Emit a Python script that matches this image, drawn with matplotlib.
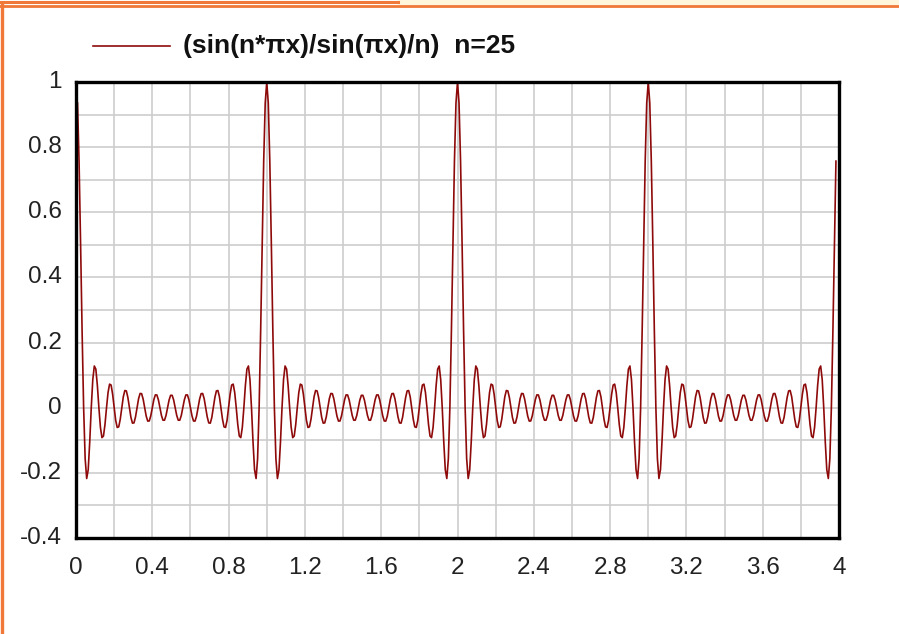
import numpy as np
import matplotlib
matplotlib.use("Agg")
import matplotlib.pyplot as plt
from matplotlib.lines import Line2D
from matplotlib.ticker import MultipleLocator

# Function parameters and sampling
n = 25
x_start, x_stop, x_step = 0.008, 3.984, 0.008
x_ticks = [0, 0.4, 0.8, 1.2, 1.6, 2, 2.4, 2.8, 3.2, 3.6, 4]
x_tick_labels = ["0", "0.4", "0.8", "1.2", "1.6", "2", "2.4", "2.8", "3.2", "3.6", "4"]
y_ticks = [-0.4, -0.2, 0, 0.2, 0.4, 0.6, 0.8, 1]
y_tick_labels = ["-0.4", "-0.2", "0", "0.2", "0.4", "0.6", "0.8", "1"]
legend_label = "(sin(n*\u03c0x)/sin(\u03c0x)/n)  n=25"

x = np.round(np.arange(x_start, x_stop + x_step / 2, x_step), 6)
den = np.sin(np.pi * x)
num = np.sin(n * np.pi * x)
near_int = np.isclose(x, np.round(x))
y = np.empty_like(x)
y[~near_int] = num[~near_int] / den[~near_int] / n
# limit value at integer x
y[near_int] = (-1.0) ** ((n - 1) * np.round(x[near_int]))

line_color = "#8E0A0A"
orange = "#F07838"

fig = plt.figure(figsize=(8.99, 6.34), dpi=100, facecolor="white")
ax = fig.add_axes([76 / 899, 1 - 538 / 634, (839 - 76) / 899, (538 - 82) / 634])

ax.plot(x, y, color=line_color, lw=1.2, zorder=2)

ax.set_xlim(0, 4)
ax.set_ylim(-0.4, 1)
ax.xaxis.set_major_locator(MultipleLocator(0.2))
ax.yaxis.set_major_locator(MultipleLocator(0.1))
ax.grid(True, color="#CDCDCD", lw=1.2, zorder=0)
ax.set_axisbelow(True)
ax.tick_params(length=0)
ax.set_xticklabels([])
ax.set_yticklabels([])

tick_font = dict(family="Liberation Sans", size=17.5, color="#222222")
for xv, lab in zip(x_ticks, x_tick_labels):
    ax.annotate(lab, xy=(xv, -0.4), xycoords="data", xytext=(0, -13.5),
                textcoords="offset points", ha="center", va="top",
                annotation_clip=False, **tick_font)
for yv, lab in zip(y_ticks, y_tick_labels):
    ax.annotate(lab, xy=(0, yv), xycoords="data", xytext=(-10, 0),
                textcoords="offset points", ha="right", va="center",
                annotation_clip=False, **tick_font)

for sp in ax.spines.values():
    sp.set_linewidth(2.4)
    sp.set_color("black")
    sp.set_zorder(5)

# Legend entry
fig.add_artist(Line2D([93 / 899, 170 / 899], [1 - 46 / 634, 1 - 46 / 634],
                      color=line_color, lw=1.2))
fig.text(183 / 899, 1 - 46 / 634, legend_label, ha="left", va="center",
         family="Liberation Sans", fontweight="bold", size=19, color="#111111")

# Window frame lines
fig.add_artist(Line2D([0, 398 / 899], [1 - 1.5 / 634, 1 - 1.5 / 634], color=orange, lw=2.2))
fig.patches.append(plt.Rectangle((398 / 899, 1 - 4 / 634), 1, 4 / 634,
                                 transform=fig.transFigure, color="#FFF6DC", zorder=0))
fig.add_artist(Line2D([0, 1], [1 - 5.5 / 634, 1 - 5.5 / 634], color=orange, lw=2.0))
fig.add_artist(Line2D([2 / 899, 2 / 899], [0, 1 - 5 / 634], color=orange, lw=2.4))

fig.savefig("out.png", dpi=100, facecolor="white")
